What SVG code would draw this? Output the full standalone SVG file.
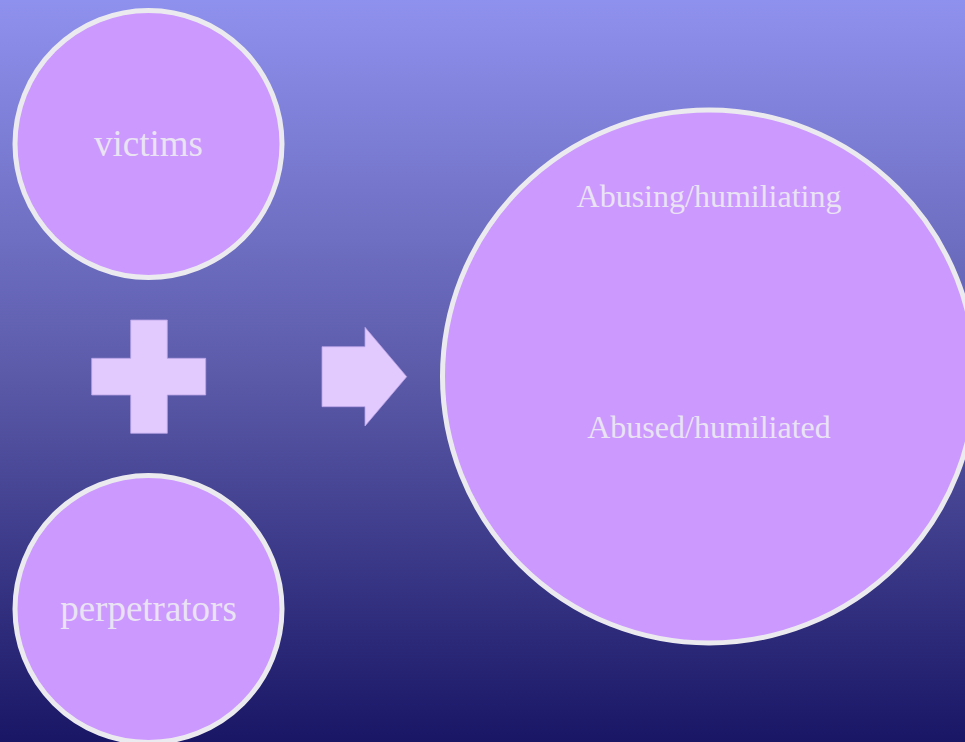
<svg xmlns="http://www.w3.org/2000/svg" width="965" height="742" viewBox="0 0 965 742">
  <defs>
    <linearGradient id="bg" x1="0" y1="0" x2="0" y2="1">
      <stop offset="0" stop-color="#8f91ee"/>
      <stop offset="0.5" stop-color="#5c5baa"/>
      <stop offset="1" stop-color="#191666"/>
    </linearGradient>
  </defs>
  <style>
    .node { fill: #cc99ff; stroke: #ebebef; stroke-width: 5; }
    .lbl { font-family: "Liberation Serif", "Times New Roman", serif; fill: #eae3f3; text-anchor: middle; }
    .sym { fill: #e2c9fe; stroke: #b9a3e6; stroke-width: 0.8; }
  </style>
  <rect x="0" y="0" width="965" height="742" fill="url(#bg)"/>
  <g id="victims">
    <circle class="node" cx="148.5" cy="144" r="133.5"/>
    <text class="lbl" x="148.5" y="156" font-size="37">victims</text>
  </g>
  <g id="perpetrators">
    <circle class="node" cx="148.5" cy="609" r="133.5"/>
    <text class="lbl" x="148.5" y="621" font-size="37">perpetrators</text>
  </g>
  <g id="result">
    <circle class="node" cx="709" cy="376.5" r="266.5"/>
    <text class="lbl" x="709" y="207" font-size="32">Abusing/humiliating</text>
    <text class="lbl" x="709" y="438" font-size="32">Abused/humiliated</text>
  </g>
  <g id="connectors">
    <path class="sym" d="M130.7,320 H167.3 V358.3 H205.7 V395 H167.3 V433.3 H130.7 V395 H91.7 V358.3 H130.7 Z"/>
    <path class="sym" d="M322,346.7 H365 V327.3 L406.7,376.7 L365,426 V406.7 H322 Z"/>
  </g>
</svg>
